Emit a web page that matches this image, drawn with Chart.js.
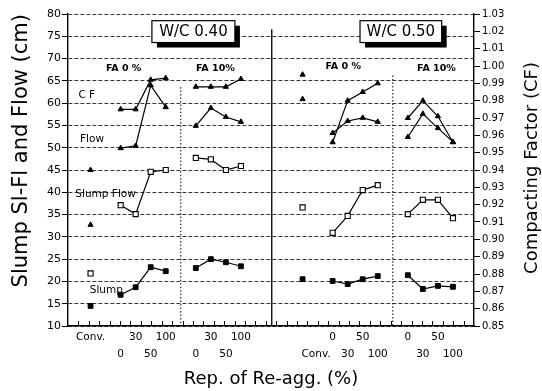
<!DOCTYPE html>
<html><head><meta charset="utf-8">
<script src="https://cdn.jsdelivr.net/npm/chart.js@4.4.0/dist/chart.umd.min.js"></script>
<style>html,body{margin:0;padding:0;background:#fff;}canvas{display:block;}</style>
</head><body>
<canvas id="c" width="542" height="391"></canvas>
<script>
// ---- categories / labels ----
const categories = ['Conv.', '0', '30', '50', '100'];
const panelLabels = ['W/C 0.40', 'W/C 0.50'];
const groupLabels = ['FA 0 %', 'FA 10%'];
const seriesLabels = ['C F', 'Flow', 'Slump Flow', 'Slump'];
const leftTicks = [10, 15, 20, 25, 30, 35, 40, 45, 50, 55, 60, 65, 70, 75, 80];
const rightTicks = [0.85, 0.86, 0.87, 0.88, 0.89, 0.90, 0.91, 0.92, 0.93, 0.94, 0.95, 0.96, 0.97, 0.98, 0.99, 1.00, 1.01, 1.02, 1.03];

// ---- W/C 0.40 ----
const cf40Conv = 0.940;
const cf40Fa0 = [0.975, 0.975, 0.992, 0.993];
const cf40Fa10 = [0.988, 0.988, 0.988, 0.9925];
const flow40Conv = 32.7;
const flow40Fa0 = [49.9, 50.4, 64.0, 59.1];
const flow40Fa10 = [54.9, 58.9, 56.9, 55.8];
const slumpFlow40Conv = 21.8;
const slumpFlow40Fa0 = [37.1, 35.1, 44.6, 45.0];
const slumpFlow40Fa10 = [47.7, 47.4, 45.0, 45.9];
const slump40Conv = 14.5;
const slump40Fa0 = [17.0, 18.7, 23.2, 22.3];
const slump40Fa10 = [23.0, 25.0, 24.3, 23.4];

// ---- W/C 0.50 ----
const cf50Conv = 0.995;
const cf50Fa0 = [0.956, 0.980, 0.985, 0.990];
const cf50Fa10 = [0.970, 0.980, 0.971, 0.956];
const flow50Conv = 60.9;
const flow50Fa0 = [53.3, 56.0, 56.7, 55.8];
const flow50Fa10 = [52.4, 57.6, 54.4, 51.3];
const slumpFlow50Conv = 36.6;
const slumpFlow50Fa0 = [30.9, 34.7, 40.5, 41.6];
const slumpFlow50Fa10 = [35.1, 38.3, 38.3, 34.2];
const slump50Conv = 20.5;
const slump50Fa0 = [20.1, 19.4, 20.5, 21.2];
const slump50Fa10 = [21.4, 18.3, 19.0, 18.8];

// ---- layout (x units, 27 slots) ----
const slots40 = {conv: 1.5, fa0: [3.5, 4.5, 5.5, 6.5], fa10: [8.5, 9.5, 10.5, 11.5]};
const slots50 = {conv: 15.6, fa0: [17.6, 18.6, 19.6, 20.6], fa10: [22.6, 23.6, 24.6, 25.6]};

function series(conv40, a40, b40, conv50, a50, b50) {
  const pts = [];
  const add = (s, conv, a, b) => {
    pts.push({x: s.conv, y: conv}, {x: s.conv + 0.5, y: null});
    a.forEach((v, i) => pts.push({x: s.fa0[i], y: v}));
    pts.push({x: s.fa0[3] + 0.5, y: null});
    b.forEach((v, i) => pts.push({x: s.fa10[i], y: v}));
    pts.push({x: s.fa10[3] + 0.5, y: null});
  };
  add(slots40, conv40, a40, b40);
  add(slots50, conv50, a50, b50);
  return pts;
}

// x tick labels (two staggered rows)
const rowA = s => [s, ''], rowB = s => ['', s];
const xTickPos = [slots40.conv, ...slots40.fa0, ...slots40.fa10, 16.5, ...slots50.fa0, ...slots50.fa10];
const xTickLabels = [
  rowA(categories[0]), rowB(categories[1]), rowA(categories[2]), rowB(categories[3]), rowA(categories[4]),
  rowB(categories[1]), rowA(categories[2]), rowB(categories[3]), rowA(categories[4]),
  rowB(categories[0]), rowA(categories[1]), rowB(categories[2]), rowA(categories[3]), rowB(categories[4]),
  rowA(categories[1]), rowB(categories[2]), rowA(categories[3]), rowB(categories[4])
];

const FONT = "'DejaVu Sans', sans-serif";
const base = {borderColor: '#000', borderWidth: 1.2, pointBorderColor: '#000', spanGaps: false, tension: 0};

const datasets = [
  Object.assign({label: 'CF', yAxisID: 'y2', data: series(cf40Conv, cf40Fa0, cf40Fa10, cf50Conv, cf50Fa0, cf50Fa10),
    pointStyle: 'triangle', pointRadius: 3, pointBackgroundColor: '#000', pointBorderWidth: 1}, base),
  Object.assign({label: 'Flow', yAxisID: 'y', data: series(flow40Conv, flow40Fa0, flow40Fa10, flow50Conv, flow50Fa0, flow50Fa10),
    pointStyle: 'triangle', pointRadius: 3, pointBackgroundColor: '#000', pointBorderWidth: 1}, base),
  Object.assign({label: 'Slump Flow', yAxisID: 'y', data: series(slumpFlow40Conv, slumpFlow40Fa0, slumpFlow40Fa10, slumpFlow50Conv, slumpFlow50Fa0, slumpFlow50Fa10),
    pointStyle: 'rect', pointRadius: 3.6, pointBackgroundColor: '#fff', pointBorderWidth: 1.1}, base),
  Object.assign({label: 'Slump', yAxisID: 'y', data: series(slump40Conv, slump40Fa0, slump40Fa10, slump50Conv, slump50Fa0, slump50Fa10),
    pointStyle: 'rect', pointRadius: 3.4, pointBackgroundColor: '#000', pointBorderWidth: 1}, base)
];

const decor = {
  id: 'decor',
  beforeDatasetsDraw(chart) {
    const {ctx, scales: {x, y}} = chart;
    const px = v => x.getPixelForValue(v), py = v => y.getPixelForValue(v);
    ctx.save();
    ctx.strokeStyle = '#000';
    ctx.lineWidth = 1.3; ctx.setLineDash([]);
    ctx.beginPath(); ctx.moveTo(px(13.55), py(76.6)); ctx.lineTo(px(13.55), py(10)); ctx.stroke();
    ctx.lineWidth = 1; ctx.setLineDash([1.5, 2]);
    [[7.5, 63.6], [21.6, 66.2]].forEach(([xv, yv]) => {
      ctx.beginPath(); ctx.moveTo(px(xv), py(yv)); ctx.lineTo(px(xv), py(10)); ctx.stroke();
    });
    ctx.setLineDash([]); ctx.lineWidth = 1;
    ctx.beginPath();
    for (let k = 1; k < 39; k++) {
      const xx = Math.round(px(27 * k / 39)) + 0.5;
      ctx.moveTo(xx, py(10)); ctx.lineTo(xx, py(10) - 5);
    }
    ctx.stroke();
    ctx.fillStyle = '#000';
    ctx.textAlign = 'center'; ctx.textBaseline = 'middle';
    ctx.font = 'bold 9.5px ' + FONT;
    ctx.fillText(groupLabels[0], px(3.7), py(67.7));
    ctx.fillText(groupLabels[1], px(9.8), py(67.7));
    ctx.fillText(groupLabels[0], px(18.3), py(68.3));
    ctx.fillText(groupLabels[1], px(24.5), py(67.8));
    ctx.font = '10.5px ' + FONT;
    ctx.fillText(seriesLabels[0], px(1.25), py(61.8));
    ctx.fillText(seriesLabels[1], px(1.6), py(52.0));
    ctx.fillText(seriesLabels[2], px(2.5), py(39.6));
    ctx.fillText(seriesLabels[3], px(2.55), py(18.0));
    ctx.restore();
  },
  afterDraw(chart) {
    const {ctx, scales: {x, y}} = chart;
    const px = v => x.getPixelForValue(v), py = v => y.getPixelForValue(v);
    ctx.save();
    [[panelLabels[0], 5.58, 11.1], [panelLabels[1], 19.42, 24.85]].forEach(([t, x0v, x1v]) => {
      const x0 = px(x0v), x1 = px(x1v), y0 = py(78.5), y1 = py(73.6);
      ctx.fillStyle = '#000';
      ctx.fillRect(x0 + 5, y0 + 5, x1 - x0, y1 - y0);
      ctx.fillStyle = '#fff';
      ctx.fillRect(x0, y0, x1 - x0, y1 - y0);
      ctx.strokeStyle = '#000'; ctx.lineWidth = 1.2;
      ctx.strokeRect(x0, y0, x1 - x0, y1 - y0);
      ctx.fillStyle = '#000';
      ctx.font = '15px ' + FONT; ctx.textAlign = 'center'; ctx.textBaseline = 'middle';
      ctx.fillText(t, (x0 + x1) / 2, (y0 + y1) / 2 + 1);
    });
    ctx.translate(532, 168);
    ctx.rotate(-Math.PI / 2);
    ctx.font = '18px ' + FONT; ctx.textAlign = 'center'; ctx.textBaseline = 'middle';
    ctx.fillStyle = '#000';
    ctx.fillText('Compacting Factor (CF)', 0, 0);
    ctx.restore();
  }
};

new Chart(document.getElementById('c'), {
  type: 'line',
  data: {datasets},
  plugins: [decor],
  options: {
    responsive: false,
    animation: false,
    layout: {padding: {top: 14, left: 0, right: 0, bottom: 0}},
    plugins: {legend: {display: false}, tooltip: {enabled: false}},
    scales: {
      x: {
        type: 'linear', min: 0, max: 27,
        afterBuildTicks: s => { s.ticks = xTickPos.map(v => ({value: v})); },
        afterFit: s => { s.height = 65; },
        ticks: {autoSkip: false, maxRotation: 0, padding: -5, color: '#000',
          font: {family: FONT, size: 10.5, lineHeight: 1.62},
          callback: (v, i) => xTickLabels[i]},
        grid: {display: false},
        border: {display: true, color: '#000', width: 1.4},
        title: {display: true, text: 'Rep. of Re-agg. (%)', color: '#000',
          font: {family: FONT, size: 18}, padding: {top: 0, bottom: 1}}
      },
      y: {
        type: 'linear', position: 'left', min: 10, max: 80,
        afterBuildTicks: s => { s.ticks = leftTicks.map(v => ({value: v})); },
        afterFit: s => { s.width = 68; },
        ticks: {padding: 1, color: '#000', font: {family: FONT, size: 11}},
        grid: {color: '#222', lineWidth: 0.9, tickColor: '#000', tickLength: 6, tickWidth: 1},
        border: {display: true, color: '#000', width: 1.4, dash: [4, 2]},
        title: {display: true, text: 'Slump Sl-Fl and Flow (cm)', color: '#000', align: 'end',
          font: {family: FONT, size: 21}, padding: {top: 9, bottom: 0}}
      },
      y2: {
        type: 'linear', position: 'right', min: 0.85, max: 1.03,
        afterBuildTicks: s => { s.ticks = rightTicks.map(v => ({value: v})); },
        afterFit: s => { s.width = 68; },
        ticks: {padding: 2, color: '#000', font: {family: FONT, size: 10},
          callback: v => Number(v).toFixed(2)},
        grid: {drawOnChartArea: false, tickColor: '#000', tickLength: 6, tickWidth: 1},
        border: {display: true, color: '#000', width: 1.4}
      }
    }
  }
});
</script>
</body></html>
